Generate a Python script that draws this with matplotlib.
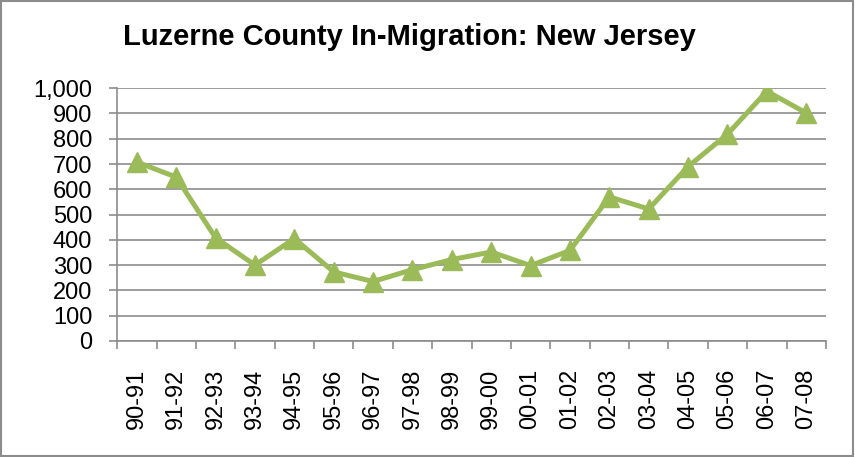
import numpy as np
import matplotlib.pyplot as plt

# データ
periods = ["90-91", "91-92", "92-93", "93-94", "94-95", "95-96", "96-97", "97-98", "98-99",
           "99-00", "00-01", "01-02", "02-03", "03-04", "04-05", "05-06", "06-07", "07-08"]
migrants = [708, 648, 408, 300, 405, 273, 235, 282, 322,
            352, 298, 358, 570, 522, 690, 818, 988, 902]
y_ticks = list(range(0, 1001, 100))

plt.rcParams['font.family'] = ['Liberation Sans', 'DejaVu Sans']

fig = plt.figure(figsize=(8.55, 4.57), dpi=100)
ax = fig.add_axes([0.137, 0.254, 0.829, 0.553])

x = np.arange(len(periods))
ax.plot(x, migrants, color="#9BBB59", lw=3.6, marker="^", markersize=15, zorder=3)

ax.set_xlim(-0.5, len(periods) - 0.5)
ax.set_ylim(0, 1000)
ax.set_yticks(y_ticks)
ax.set_yticklabels([f"{v:,}" for v in y_ticks], fontsize=17)
ax.yaxis.grid(True, color="#8c8c8c", lw=1.2)
ax.set_axisbelow(True)

# カテゴリ境界に目盛り
ax.set_xticks(np.arange(len(periods) + 1) - 0.5)
ax.set_xticklabels([])
ax.set_xticks(x, minor=True)
ax.set_xticklabels(periods, minor=True, rotation=90, fontsize=17)
ax.tick_params(axis="x", which="minor", length=0, pad=20)
ax.tick_params(axis="x", which="major", length=6, color="#8c8c8c", width=1.2)
ax.tick_params(axis="y", length=6, color="#8c8c8c", width=1.2, pad=12)

for s in ["top", "right"]:
    ax.spines[s].set_visible(False)
for s in ["left", "bottom"]:
    ax.spines[s].set_color("#8c8c8c")
    ax.spines[s].set_linewidth(1.2)

fig.text(0.479, 0.919, "Luzerne County In-Migration: New Jersey", ha="center", va="center",
         fontsize=21, fontweight="bold")

# 外枠
fig.patches.append(plt.Rectangle((0.001, 0.002), 0.997, 0.996, transform=fig.transFigure,
                                 fill=False, edgecolor="#8c8c8c", lw=1.5))

plt.savefig("out.png", dpi=100)
